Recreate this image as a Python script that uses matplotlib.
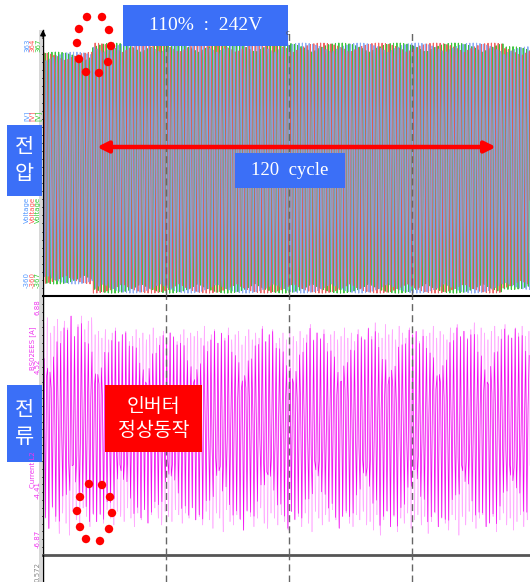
import numpy as np
import matplotlib.pyplot as plt
from matplotlib.patches import Rectangle, Circle

plt.rcParams['font.family'] = ['DejaVu Sans']

# time axis (s)
t_start = 0.572
t_end = 2.948
freq = 60
grid_times = [1.172, 1.772, 2.372]

# voltage: peak value per segment (before / 120 cycle swell / after)
seg_edges = [0.816, 2.816]
volt_peak = [320, 345, 335]
phase_deg = [120, -120, 0]
volt_colors = ['#2ec52e', '#ef5050', '#7da2f2']

# current: positive / negative peak of each cycle (A)
cur_hi = [5.9, 6.2, 5.3, 5.7, 6.1, 5.4, 6.0, 5.6, 6.3, 5.1, 5.8, 6.3, 5.5, 6.0, 6.2, 5.2,
          5.4, 5.0, 5.5, 4.9, 5.3, 5.6, 4.8, 5.2, 5.4, 4.8, 5.1, 5.5, 5.0, 5.3, 4.9, 5.2,
          5.6, 5.0, 5.1, 5.4, 4.9, 5.3, 5.1, 4.8, 5.2, 5.5, 5.0, 5.3, 5.1,
          5.4, 5.0, 5.7, 4.8, 5.2, 5.5, 4.7, 5.3, 5.0, 5.6, 4.9, 5.2, 5.4, 4.6, 5.1, 5.5,
          4.9, 5.3, 5.0, 5.7, 4.8, 5.2, 5.5, 4.7, 5.0, 5.3, 4.9, 5.6, 5.1, 4.8, 5.4, 5.0,
          5.2, 5.8, 4.9, 5.3, 5.0, 5.5, 4.7, 5.2, 5.4, 4.9, 5.1, 5.6, 5.0, 5.3, 4.8, 5.5,
          5.1, 4.9,
          5.6, 5.1, 5.9, 5.3, 5.0, 5.8, 5.2, 5.5, 4.9, 5.7, 5.3, 5.0, 5.6, 5.2, 5.4, 4.8,
          5.5, 5.1, 5.3, 5.7, 5.0, 5.4, 5.2, 4.9, 5.6, 5.3, 5.8, 5.1, 5.4, 5.0, 5.5, 5.9,
          5.2, 5.6, 5.3, 4.9, 5.4, 5.7, 5.1, 5.5, 5.8, 5.2, 5.0, 5.6, 5.3, 5.7, 5.1, 5.4]
cur_lo = [-5.6, -6.2, -5.0, -5.8, -6.5, -5.3, -5.9, -6.6, -5.2, -5.7, -6.3, -5.0, -5.5, -6.1, -5.4, -5.8,
          -5.4, -5.9, -5.1, -5.6, -6.0, -5.2, -5.5, -5.8, -5.0, -5.6, -6.1, -5.3, -5.7, -5.1, -5.9,
          -5.4, -5.0, -5.6, -6.0, -5.2, -5.5, -5.8, -5.1, -5.4, -5.9, -5.3, -5.6, -5.0, -5.7,
          -5.5, -6.0, -5.2, -5.7, -6.2, -5.3, -5.6, -6.4, -5.1, -5.8, -6.0, -5.4, -5.7, -6.3,
          -5.2, -5.5, -6.1, -5.6, -5.0, -5.9, -6.2, -5.3, -5.6, -6.0, -5.4, -5.8, -6.3, -5.2,
          -5.7, -5.5, -6.1, -5.3, -5.9, -6.4, -5.2, -5.6, -6.0, -5.4, -5.8, -5.1, -5.7, -6.2,
          -5.5, -5.3, -5.9, -6.1, -5.4, -5.7, -5.2, -6.0,
          -5.8, -6.3, -5.4, -6.6, -5.7, -5.2, -6.1, -5.5, -6.4, -5.6, -5.9, -5.3, -6.2, -5.7,
          -5.4, -6.0, -5.5, -6.5, -5.8, -5.3, -6.1, -5.6, -5.9, -6.3, -5.4, -5.7, -6.6, -5.5,
          -6.0, -5.2, -5.8, -6.2, -5.6, -5.4, -6.1, -5.9, -5.5, -6.4, -5.7, -5.3, -6.0, -5.6,
          -6.3, -5.8, -5.4, -6.1, -5.7, -6.5]

# annotation dots (pixel positions)
dots_top_x = [87, 102, 79, 109, 77, 111, 79, 108, 86, 99]
dots_top_y = [17, 17, 29, 30, 43, 46, 59, 62, 72, 73]
dots_bot_x = [89, 102, 80, 110, 77, 112, 80, 109, 86, 100]
dots_bot_y = [484, 485, 497, 497, 511, 513, 527, 529, 539, 541]

W, H = 530, 582
fig = plt.figure(figsize=(W / 100, H / 100), dpi=100)


def frac(x0, y0, x1, y1):
    return [x0 / W, 1 - y1 / H, (x1 - x0) / W, (y1 - y0) / H]


ax_v = fig.add_axes(frac(43, 30, 530, 296))
ax_i = fig.add_axes(frac(43, 296, 530, 555))
ax_t = fig.add_axes(frac(43, 555, 530, 582))

# voltage waveform (recorder display, coarse sampling)
t_v = np.arange(t_start, t_end, 1 / (freq * 8.06))
amp = np.array(volt_peak)[np.searchsorted(seg_edges, t_v)]
ax_v.plot(t_v, amp * np.sin(2 * np.pi * freq * t_v + np.radians(120)),
          color='#2a6e2a', lw=0.5, alpha=0.6)
for ph, c in zip(phase_deg, volt_colors):
    ax_v.plot(t_v, amp * np.sin(2 * np.pi * freq * t_v + np.radians(ph)),
              color=c, lw=0.75, alpha=0.88)
ax_v.set_ylim(-353, 381)

# current waveform
n = min(len(cur_hi), len(cur_lo))
hi = np.array(cur_hi[:n])
lo = np.array(cur_lo[:n])
t_f = np.arange(t_start, t_start + n / freq, 1 / (freq * 16))
k_f = np.minimum(((t_f - t_start) * freq).astype(int), n - 1)
s_f = np.sin(2 * np.pi * freq * (t_f - t_start))
ax_i.plot(t_f, np.where(s_f >= 0, s_f * hi[k_f], -s_f * lo[k_f]),
          color='#ff9cff', lw=0.45, alpha=0.85)
t_c = t_start + np.arange(int(n * 2.93)) / (freq * 2.93)
k_c = np.minimum(((t_c - t_start) * freq).astype(int), n - 1)
s_c = np.sin(2 * np.pi * freq * (t_c - t_start) + 0.3)
ax_i.plot(t_c, np.where(s_c >= 0, s_c * hi[k_c], -s_c * lo[k_c]), color='#f000f0', lw=0.5)
ax_i.set_ylim(-7.76, 7.47)

for ax in (ax_v, ax_i, ax_t):
    ax.set_xlim(t_start, t_end)
    ax.set_xticks([])
    ax.set_yticks([])
    for side in ('top', 'right', 'bottom'):
        ax.spines[side].set_visible(False)
    ax.spines['left'].set_color('black')
    ax.spines['left'].set_linewidth(1.0)
    for gt in grid_times:
        ax.axvline(gt, color='#666666', lw=1.0, dashes=(5, 3), zorder=5)
    ax.patch.set_alpha(0)

ax_v.spines['bottom'].set_visible(True)
ax_v.spines['bottom'].set_color('black')
ax_v.spines['bottom'].set_linewidth(1.5)
ax_i.spines['bottom'].set_visible(True)
ax_i.spines['bottom'].set_color('#555555')
ax_i.spines['bottom'].set_linewidth(2.0)
for ax in (ax_v, ax_i):
    ax.set_yticks(np.linspace(*ax.get_ylim(), 34)[1:-1], minor=True)
    ax.tick_params(axis='y', which='minor', length=2, color='#555555', width=0.6)

# overlay in pixel coordinates
ov = fig.add_axes([0, 0, 1, 1], zorder=10)
ov.set_xlim(0, W)
ov.set_ylim(H, 0)
ov.axis('off')
ov.patch.set_alpha(0)

ov.add_patch(Rectangle((39, 30), 3, 552, color='#d8d8d8', lw=0))
ov.annotate('', xy=(43, 27), xytext=(43, 40),
            arrowprops=dict(arrowstyle='-|>', color='black', lw=1, mutation_scale=8))
ov.text(288, 33, 'c', fontsize=5, color='#555555', ha='center', va='center')

blue = '#3b6ff7'


def box(x0, y0, x1, y1, color, label, size, family, linespacing=1.2):
    ov.add_patch(Rectangle((x0, y0), x1 - x0, y1 - y0, color=color, lw=0))
    ov.text((x0 + x1) / 2, (y0 + y1) / 2, label, color='white', fontsize=size,
            family=family, ha='center', va='center', linespacing=linespacing)


box(123, 5, 288, 46, blue, '110%  :  242V', 14, ['Liberation Serif'])
box(235, 153, 345, 188, blue, '120  cycle', 13.5, ['Liberation Serif'])
box(7, 125, 42, 196, blue, '전\n압', 15, ['Noto Sans CJK KR'], 1.25)
box(7, 385, 42, 462, blue, '전\n류', 15, ['Noto Sans CJK KR'], 1.35)
box(105, 385, 202, 452, '#ff0000', '인버터\n정상동작', 14, ['Noto Sans CJK KR'], 1.2)

ov.annotate('', xy=(97, 147), xytext=(496, 147),
            arrowprops=dict(arrowstyle='<|-|>', color='#ff0000', lw=3.2, mutation_scale=16,
                            shrinkA=0, shrinkB=0))

for xs, ys in ((dots_top_x, dots_top_y), (dots_bot_x, dots_bot_y)):
    for x, y in zip(xs, ys):
        ov.add_patch(Circle((x, y), 4.2, color='#ff0000', lw=0))

# axis labels
cols = [(27, '#5599ff'), (32.5, '#ff5555'), (38, '#33cc33')]
top_vals = ['363', '364', '367']
bot_vals = ['-360', '-360', '-367']
for (x, c), tv, bv in zip(cols, top_vals, bot_vals):
    ov.text(x, 45, tv, color=c, fontsize=5, rotation=90, ha='center', va='center')
    ov.text(x, 116, '[V]', color=c, fontsize=5, rotation=90, ha='center', va='center')
    ov.text(x, 210, 'Voltage', color=c, fontsize=5, rotation=90, ha='center', va='center')
    ov.text(x, 280, bv, color=c, fontsize=5, rotation=90, ha='center', va='center')

mag = '#ee33ee'
ov.text(38, 307, '6.88', color=mag, fontsize=5, rotation=90, ha='center', va='center')
ov.text(33, 348, 'BS02EES [A]', color=mag, fontsize=5, rotation=90, ha='center', va='center')
ov.text(38, 366, '4.52', color=mag, fontsize=5, rotation=90, ha='center', va='center')
ov.text(33, 470, 'Current L2', color=mag, fontsize=5, rotation=90, ha='center', va='center')
ov.text(38, 490, '-4.41', color=mag, fontsize=5, rotation=90, ha='center', va='center')
ov.text(38, 539, '-6.87', color=mag, fontsize=5, rotation=90, ha='center', va='center')
ov.text(38, 572, '0.572', color='#888888', fontsize=5, rotation=90, ha='center', va='center')

fig.savefig('out.png', dpi=100)
